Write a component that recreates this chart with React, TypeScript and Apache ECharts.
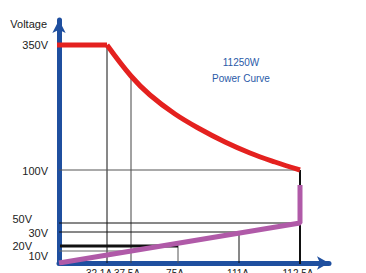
import React, { useEffect, useRef } from "react";
import * as echarts from "echarts";

// Schematic (non-linear) diagram: positions along each axis are given in "levels".
const currentLabels = ["32.1A", "37.5A", "75A", "111A", "112.5A"];
const currentLabelLevels = [40, 68, 116, 179, 239];
const voltageLabels = ["350V", "100V", "50V", "30V", "20V", "10V"];
const voltageLabelLevels = [218, 92, 44, 30, 17, 7];
const voltageShifted = ["50V", "20V"];

// guide lines (x-level, y-level pairs)
const guide321 = [[48, 0], [48, 218]];
const guide375 = [[72, 0], [72, 187]];
const guide75 = [[119, 0], [119, 20]];
const guide111 = [[180, 0], [180, 31]];
const guide1125 = [[241, -1], [241, 93]];
const level100 = [[0, 93], [241, 93]];
const level50 = [[0, 40], [241, 40]];
const level30 = [[0, 31], [180, 31]];
const level20 = [[1, 17], [119, 17]];
const level10 = [[0, 12], [72, 12]];

// lower limit (purple) and power curve (red)
const minLimit = [[0, 0], [241, 40], [241, 78]];
const flatTop = [[-2, 218], [48, 218]];
const powerCurve = [
  [48, 218], [72, 187], [91, 168], [116, 149], [141, 134],
  [166, 121], [191, 110], [216, 101], [241, 93],
];

const BLUE = "#1f4f9f";
const FONT = "Liberation Sans, Arial, sans-serif";

function seg(data: number[][], color: string, width: number, z = 2) {
  return {
    type: "line",
    data,
    symbol: "none",
    silent: true,
    z,
    lineStyle: { color, width, cap: "butt" },
  };
}

export default function App() {
  const ref = useRef<HTMLDivElement>(null);
  useEffect(() => {
    if (!ref.current) return;
    const chart = echarts.init(ref.current, undefined, { renderer: "svg" });
    const xMap: Record<number, string> = {};
    currentLabelLevels.forEach((l, i) => (xMap[l] = currentLabels[i]));
    const yMap: Record<number, string> = {};
    voltageLabelLevels.forEach((l, i) => (yMap[l] = voltageLabels[i]));
    chart.setOption({
      animation: false,
      grid: {
        left: 59,
        top: 20,
        width: 270,
        height: 243,
        containLabel: false,
        outerBoundsMode: "none",
      },
      xAxis: {
        type: "value",
        min: 0,
        max: 270,
        interval: 1,
        axisLine: {
          show: true,
          onZero: false,
          symbol: ["none", "arrow"],
          symbolSize: [10, 12],
          lineStyle: { color: BLUE, width: 5 },
        },
        axisTick: { show: false },
        splitLine: { show: false },
        axisLabel: {
          margin: 5,
          fontSize: 10,
          fontFamily: FONT,
          color: "#222",
          formatter: (v: number) => xMap[Math.round(v)] ?? "",
        },
      },
      yAxis: {
        type: "value",
        min: 0,
        max: 243,
        interval: 1,
        name: "Voltage",
        nameLocation: "end",
        nameGap: -4,
        nameTextStyle: {
          fontSize: 11,
          fontFamily: FONT,
          color: "#222",
          align: "right",
          verticalAlign: "middle",
          padding: [0, 12, 0, 0],
        },
        axisLine: {
          show: true,
          onZero: false,
          symbol: ["none", "arrow"],
          symbolSize: [10, 13],
          lineStyle: { color: BLUE, width: 5 },
        },
        axisTick: { show: false },
        splitLine: { show: false },
        axisLabel: {
          margin: 11,
          fontSize: 11,
          fontFamily: FONT,
          color: "#222",
          formatter: (v: number) => {
            const s = yMap[Math.round(v)];
            if (!s) return "";
            return voltageShifted.includes(s) ? `{s|${s}}` : s;
          },
          rich: {
            s: { padding: [0, 16, 0, 0], fontSize: 11, fontFamily: FONT, color: "#222" },
          },
        },
      },
      graphic: [
        {
          type: "text",
          x: 241,
          y: 70,
          style: {
            text: "11250W\nPower Curve",
            align: "center",
            verticalAlign: "middle",
            lineHeight: 16,
            fontSize: 10,
            fontFamily: FONT,
            fill: "#2a5aa8",
          },
        },
      ],
      series: [
        seg(guide321, "#111", 1),
        seg(guide375, "#444", 1),
        seg(guide75, "#555", 1),
        seg(guide111, "#111", 1),
        seg(guide1125, "#111", 2),
        seg(level100, "#555", 1),
        seg(level50, "#111", 1),
        seg(level30, "#111", 1),
        seg(level20, "#111", 3),
        seg(level10, "#666", 1),
        seg(minLimit, "#b05aa8", 5, 5),
        seg(flatTop, "#e4211f", 5, 6),
        { ...seg(powerCurve, "#e4211f", 5, 6), smooth: 0.4 },
      ],
    });
    return () => chart.dispose();
  }, []);
  return (
    <div
      ref={ref}
      style={{ position: "fixed", left: 0, top: 0, width: 366, height: 273, background: "#fff" }}
    />
  );
}
